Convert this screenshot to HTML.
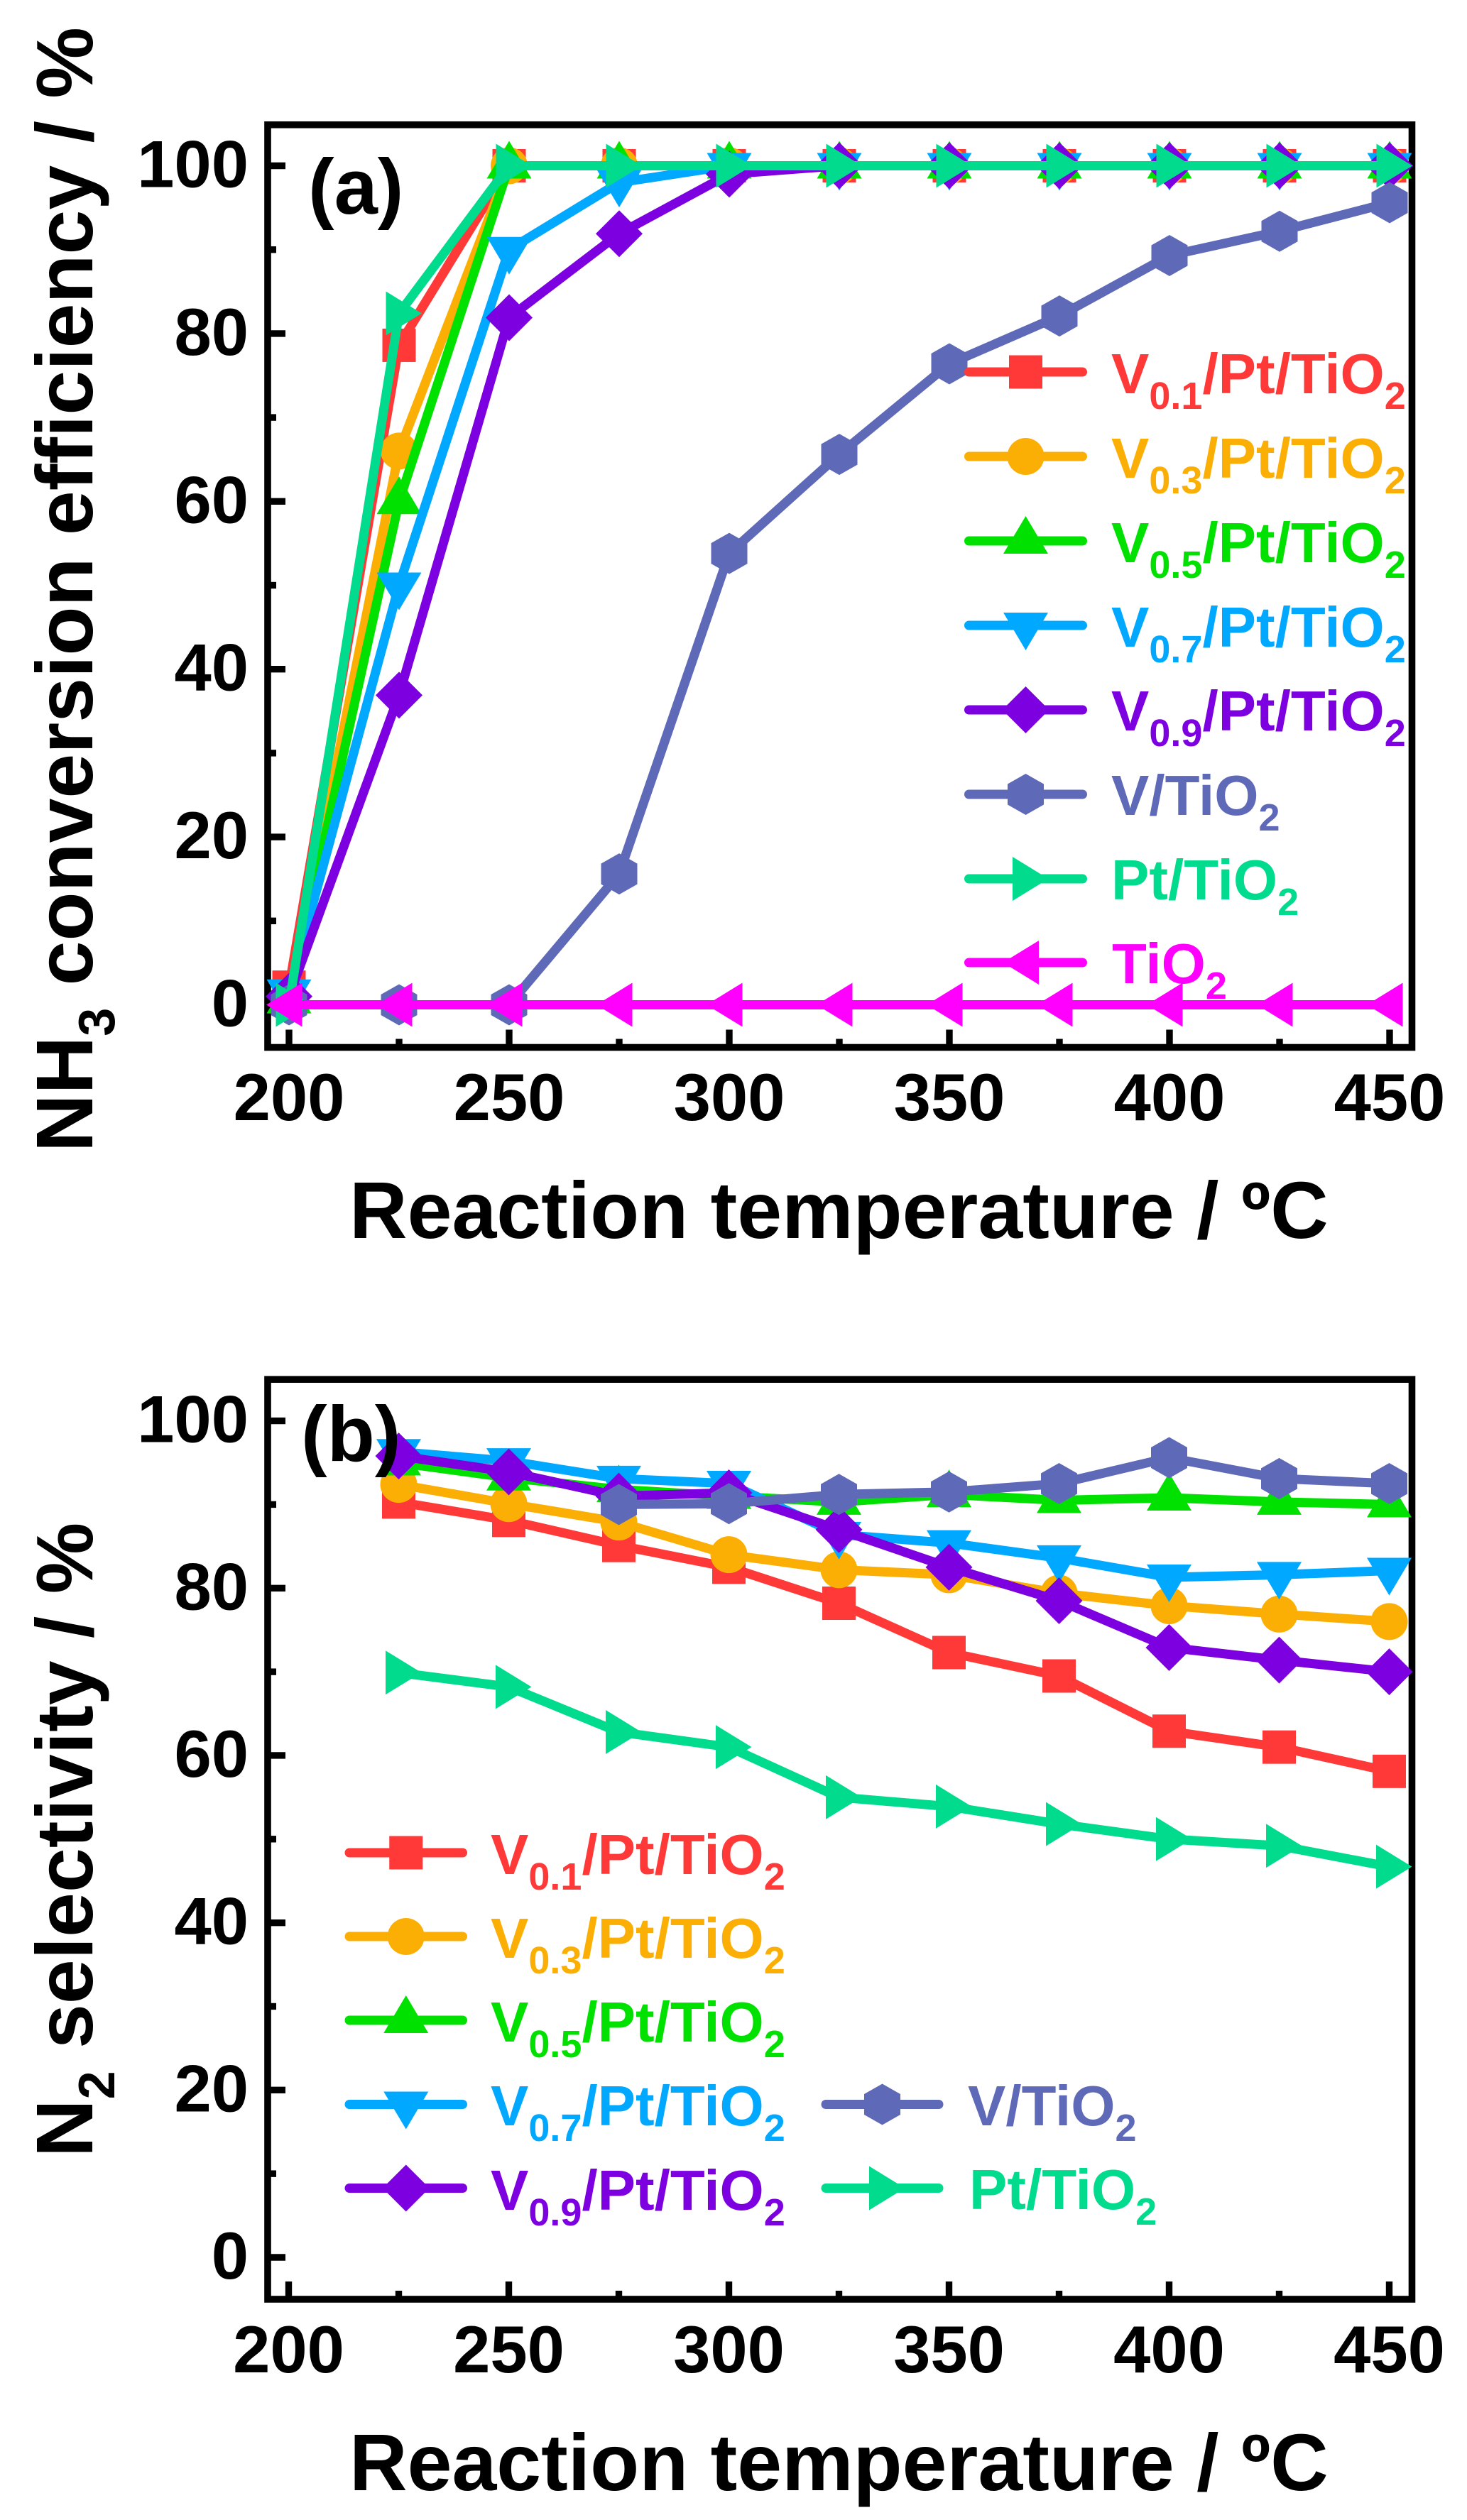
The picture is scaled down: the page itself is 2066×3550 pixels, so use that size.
<!DOCTYPE html>
<html lang="en">
<head>
<meta charset="utf-8">
<title>NH3 conversion efficiency and N2 selectivity</title>
<style>
html,body{margin:0;padding:0;background:#fff;}
body{width:2066px;height:3550px;overflow:hidden;}
svg{display:block;}
text{font-family:"Liberation Sans",Arial,sans-serif;font-weight:bold;}
</style>
</head>
<body>
<svg id="figure" xmlns="http://www.w3.org/2000/svg" width="2066" height="3550" viewBox="0 0 2066 3550">
  <rect x="0" y="0" width="2066" height="3550" fill="#fff"/>

  <g id="panel-a">
    <g id="a-axes"></g>
    <g id="a-series"></g>
    <g id="a-swatches"></g>
    <g font-size="80">
      <text x="1565" y="554" fill="#FF3838">V<tspan dy="22" font-size="54">0.1</tspan><tspan dy="-22">/Pt/TiO</tspan><tspan dy="22" font-size="54">2</tspan></text>
      <text x="1565" y="673" fill="#FBAF04">V<tspan dy="22" font-size="54">0.3</tspan><tspan dy="-22">/Pt/TiO</tspan><tspan dy="22" font-size="54">2</tspan></text>
      <text x="1565" y="792" fill="#00E100">V<tspan dy="22" font-size="54">0.5</tspan><tspan dy="-22">/Pt/TiO</tspan><tspan dy="22" font-size="54">2</tspan></text>
      <text x="1565" y="911" fill="#00A8FF">V<tspan dy="22" font-size="54">0.7</tspan><tspan dy="-22">/Pt/TiO</tspan><tspan dy="22" font-size="54">2</tspan></text>
      <text x="1565" y="1029" fill="#7C00E0">V<tspan dy="22" font-size="54">0.9</tspan><tspan dy="-22">/Pt/TiO</tspan><tspan dy="22" font-size="54">2</tspan></text>
      <text x="1565" y="1148" fill="#5E69B8">V/TiO<tspan dy="22" font-size="54">2</tspan></text>
      <text x="1565" y="1267" fill="#00DB8E">Pt/TiO<tspan dy="22" font-size="54">2</tspan></text>
      <text x="1566" y="1385" fill="#FF00FF">TiO<tspan dy="22" font-size="54">2</tspan></text>
    </g>
    <text x="434" y="301" font-size="110">(a)</text>
    <text x="492" y="1744" font-size="113">Reaction temperature / ºC</text>
    <text transform="translate(130,1623) rotate(-90)" font-size="113">NH<tspan dy="31" font-size="72">3</tspan><tspan dy="-31"> conversion efficiency / %</tspan></text>
  </g>

  <g id="panel-b">
    <g id="b-axes"></g>
    <g id="b-series"></g>
    <g id="b-swatches"></g>
    <g font-size="80">
      <text x="691" y="2640" fill="#FF3838">V<tspan dy="22" font-size="54">0.1</tspan><tspan dy="-22">/Pt/TiO</tspan><tspan dy="22" font-size="54">2</tspan></text>
      <text x="691" y="2758" fill="#FBAF04">V<tspan dy="22" font-size="54">0.3</tspan><tspan dy="-22">/Pt/TiO</tspan><tspan dy="22" font-size="54">2</tspan></text>
      <text x="691" y="2876" fill="#00E100">V<tspan dy="22" font-size="54">0.5</tspan><tspan dy="-22">/Pt/TiO</tspan><tspan dy="22" font-size="54">2</tspan></text>
      <text x="691" y="2994" fill="#00A8FF">V<tspan dy="22" font-size="54">0.7</tspan><tspan dy="-22">/Pt/TiO</tspan><tspan dy="22" font-size="54">2</tspan></text>
      <text x="691" y="3113" fill="#7C00E0">V<tspan dy="22" font-size="54">0.9</tspan><tspan dy="-22">/Pt/TiO</tspan><tspan dy="22" font-size="54">2</tspan></text>
      <text x="1363" y="2994" fill="#5E69B8">V/TiO<tspan dy="22" font-size="54">2</tspan></text>
      <text x="1365" y="3112" fill="#00DB8E">Pt/TiO<tspan dy="22" font-size="54">2</tspan></text>
    </g>
    <text x="424" y="2058" font-size="110">(b)</text>
    <text x="492" y="3508" font-size="113">Reaction temperature / ºC</text>
    <text transform="translate(130,3039) rotate(-90)" font-size="113">N<tspan dy="31" font-size="72">2</tspan><tspan dy="-31"> selectivity / %</tspan></text>
  </g>
</svg>

<script>
// ---- chart data ----
const temperatures = [200, 225, 250, 275, 300, 325, 350, 375, 400, 425, 450];
const xMajorTicks = [200, 250, 300, 350, 400, 450];
const xMinorTicks = [225, 275, 325, 375, 425];
const yMajorTicks = [0, 20, 40, 60, 80, 100];
const yMinorTicks = [10, 30, 50, 70, 90];

const seriesKeys = ['v01', 'v03', 'v05', 'v07', 'v09', 'v-tio2', 'pt-tio2', 'tio2'];
const seriesColors = ['#FF3838', '#FBAF04', '#00E100', '#00A8FF', '#7C00E0', '#5E69B8', '#00DB8E', '#FF00FF'];
const seriesMarkers = ['square', 'circle', 'up', 'down', 'diamond', 'hexagon', 'right', 'left'];

// Panel (a): NH3 conversion efficiency, %
const aV01 = [2.1, 78.6, 100, 100, 100, 100, 100, 100, 100, 100, 100];
const aV03 = [0.3, 66, 100, 100, 100, 100, 100, 100, 100, 100, 100];
const aV05 = [0.5, 60, 100, 100, 100, 100, 100, 100, 100, 100, 100];
const aV07 = [1.5, 50, 90, 98, 100, 100, 100, 100, 100, 100, 100];
const aV09 = [1, 36.9, 81.9, 91.9, 99, 100, 100, 100, 100, 100, 100];
const aVTi = [0, 0, 0, 15.6, 53.8, 65.6, 76.4, 82.1, 89.3, 92.2, 95.6];
const aPtTi = [0, 82.4, 100, 100, 100, 100, 100, 100, 100, 100, 100];
const aTi = [0, 0, 0, 0, 0, 0, 0, 0, 0, 0, 0];

// Panel (b): N2 selectivity, %
const bV01 = [null, 90.3, 88.1, 85.1, 82.5, 78.2, 72.3, 69.5, 62.9, 61, 58.1];
const bV03 = [null, 92.4, 90.1, 87.9, 84, 82.2, 81.6, 79.4, 77.9, 76.9, 76];
const bV05 = [null, 95, 93.2, 91.8, 91, 90.3, 91.2, 90.5, 90.8, 90.3, 90];
const bV07 = [null, 96.3, 95.2, 93.1, 92.5, 86.4, 85.4, 83.6, 81.3, 81.6, 82.1];
const bV09 = [null, 95.8, 93.9, 91, 91.4, 87, 82.5, 78.5, 72.9, 71.4, 70];
const bVTi = [null, null, null, 90, 90.1, 91.2, 91.5, 92.5, 95.6, 93.1, 92.5];
const bPtTi = [null, 69.9, 68.2, 62.8, 61, 55, 53.9, 51.8, 50, 49.2, 46.7];

const panelASeries = [aV01, aV03, aV05, aV07, aV09, aVTi, aPtTi, aTi];
const panelBSeries = [bV01, bV03, bV05, bV07, bV09, bVTi, bPtTi];

// ---- axis functions ----
function xA(t) { return 407 + (t - 200) * 6.2; }
function yA(v) { return 1415.5 - v * 11.82; }
function xB(t) { return 406.5 + (t - 200) * 6.2; }
function yB(v) { return 3180 - v * 11.784; }

const NS = 'http://www.w3.org/2000/svg';
const LINE_WIDTH = 13;

function make(tag, parent) {
  const el = document.createElementNS(NS, tag);
  parent.appendChild(el);
  return el;
}

function drawMarker(parent, kind, cx, cy, color, name) {
  let el;
  if (kind === 'square') {
    el = make('rect', parent);
    el.setAttribute('x', cx - 23.5);
    el.setAttribute('y', cy - 23.5);
    el.setAttribute('width', 47);
    el.setAttribute('height', 47);
  } else if (kind === 'circle') {
    el = make('circle', parent);
    el.setAttribute('cx', cx);
    el.setAttribute('cy', cy);
    el.setAttribute('r', 26);
  } else {
    const shapes = {
      up: [[0, -35], [31.5, 18], [-31.5, 18]],
      down: [[0, 35], [31.5, -18], [-31.5, -18]],
      right: [[32, 0], [-18.5, 31], [-18.5, -31]],
      left: [[-32, 0], [18.5, 31], [18.5, -31]],
      diamond: [[0, -33], [33, 0], [0, 33], [-33, 0]],
      hexagon: [[0, -29], [25.5, -14.5], [25.5, 14.5], [0, 29], [-25.5, 14.5], [-25.5, -14.5]]
    };
    el = make('polygon', parent);
    el.setAttribute('points', shapes[kind].map(function (p) { return (cx + p[0]) + ',' + (cy + p[1]); }).join(' '));
  }
  el.setAttribute('fill', color);
  
  
}

function drawAxes(groupId, panel, xFn, yFn, frame) {
  const g = document.getElementById(groupId);
  const box = make('rect', g);
  box.setAttribute('x', frame.left);
  box.setAttribute('y', frame.top);
  box.setAttribute('width', frame.right - frame.left);
  box.setAttribute('height', frame.bottom - frame.top);
  box.setAttribute('fill', 'none');
  box.setAttribute('stroke', '#000');
  box.setAttribute('stroke-width', 9.6);
  
  

  function tick(x1, y1, x2, y2, name) {
    const ln = make('line', g);
    ln.setAttribute('x1', x1);
    ln.setAttribute('y1', y1);
    ln.setAttribute('x2', x2);
    ln.setAttribute('y2', y2);
    ln.setAttribute('stroke', '#000');
    ln.setAttribute('stroke-width', 9.4);
    
    
  }
  function label(x, y, anchor, content, name) {
    const t = make('text', g);
    t.setAttribute('x', x);
    t.setAttribute('y', y);
    t.setAttribute('text-anchor', anchor);
    t.setAttribute('font-size', 94);
    t.textContent = content;
    
    
  }

  xMajorTicks.forEach(function (t) {
    tick(xFn(t), frame.bottom, xFn(t), frame.bottom - 25, 'x-tick-' + panel + '-' + t);
    label(xFn(t), frame.xLabelY, 'middle', String(t), 'x-tick-label-' + panel + '-' + t);
  });
  xMinorTicks.forEach(function (t) {
    tick(xFn(t), frame.bottom, xFn(t), frame.bottom - 12, 'x-minor-tick-' + panel + '-' + t);
  });
  yMajorTicks.forEach(function (v) {
    tick(frame.left, yFn(v), frame.left + 25, yFn(v), 'y-tick-' + panel + '-' + v);
    label(350, yFn(v) + 30, 'end', String(v), 'y-tick-label-' + panel + '-' + v);
  });
  yMinorTicks.forEach(function (v) {
    tick(frame.left, yFn(v), frame.left + 12, yFn(v), 'y-minor-tick-' + panel + '-' + v);
  });
}

function drawSeries(groupId, panel, seriesList, xFn, yFn) {
  const g = document.getElementById(groupId);
  seriesList.forEach(function (values, i) {
    const sg = make('g', g);
    
    
    const pts = [];
    values.forEach(function (v, j) {
      if (v !== null) pts.push([xFn(temperatures[j]), yFn(v)]);
    });
    const line = make('polyline', sg);
    line.setAttribute('points', pts.map(function (p) { return p[0] + ',' + p[1]; }).join(' '));
    line.setAttribute('fill', 'none');
    line.setAttribute('stroke', seriesColors[i]);
    line.setAttribute('stroke-width', LINE_WIDTH);
    line.setAttribute('stroke-linejoin', 'round');
    
    
    pts.forEach(function (p, k) {
      drawMarker(sg, seriesMarkers[i], p[0], p[1], seriesColors[i], 'point-' + panel + '-' + seriesKeys[i] + '-' + k);
    });
  });
}

function drawSwatch(groupId, panel, i, x1, x2, y) {
  const g = document.getElementById(groupId);
  const sg = make('g', g);
  
  
  const ln = make('line', sg);
  ln.setAttribute('x1', x1 + 6);
  ln.setAttribute('x2', x2 - 6);
  ln.setAttribute('y1', y);
  ln.setAttribute('y2', y);
  ln.setAttribute('stroke', seriesColors[i]);
  ln.setAttribute('stroke-width', LINE_WIDTH);
  ln.setAttribute('stroke-linecap', 'round');
  
  
  drawMarker(sg, seriesMarkers[i], (x1 + x2) / 2, y, seriesColors[i], 'legend-marker-' + panel + '-' + seriesKeys[i]);
}

drawAxes('a-axes', 'a', xA, yA, { left: 377, right: 1988.5, top: 175.8, bottom: 1475.5, xLabelY: 1578 });
drawAxes('b-axes', 'b', xB, yB, { left: 377, right: 1988.5, top: 1943.2, bottom: 3239, xLabelY: 3342 });

drawSeries('a-series', 'a', panelASeries, xA, yA);
drawSeries('b-series', 'b', panelBSeries, xB, yB);

[524, 643, 762, 881, 1000, 1119, 1238, 1356].forEach(function (y, i) {
  drawSwatch('a-swatches', 'a', i, 1358.5, 1530.5, y);
});
[2610, 2728, 2846, 2964.5, 3082.5].forEach(function (y, i) {
  drawSwatch('b-swatches', 'b', i, 486, 657.5, y);
});
[2964.5, 3082.5].forEach(function (y, i) {
  drawSwatch('b-swatches', 'b', i + 5, 1157, 1328, y);
});
</script>
</body>
</html>
